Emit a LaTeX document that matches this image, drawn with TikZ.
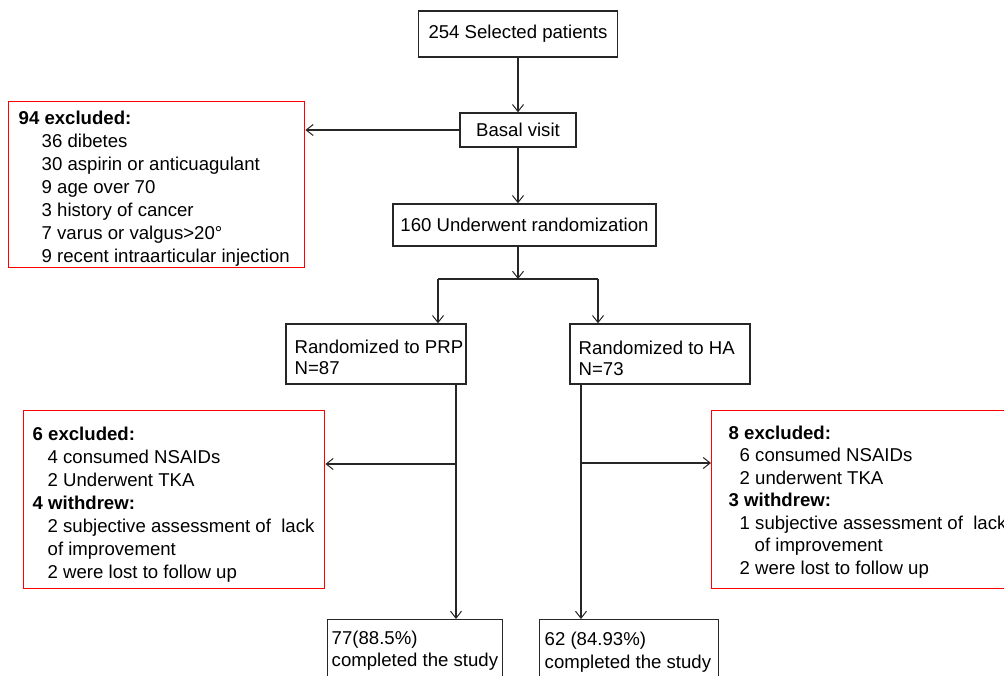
\documentclass[tikz,border=0pt]{standalone}
\usepackage{fontspec}
\setmainfont{Liberation Sans}
\usetikzlibrary{arrows.meta,calc}
\begin{document}
\begin{tikzpicture}[x=1pt,y=-1pt,
  line width=1.4pt,
  every node/.style={font=\fontsize{18.6}{23}\selectfont},
  blackbox/.style={draw=black!85, line width=1.4pt, inner sep=0pt, rectangle},
  redbox/.style={draw=red, line width=1.4pt, inner sep=0pt, rectangle},
  txt/.style={anchor=north west, inner sep=0pt, align=left},
  arr/.style={draw=black!85, -{Straight Barb[length=7pt,width=11pt,line width=1pt]}},
  ln/.style={draw=black!85}
]
\clip (0,0) rectangle (1004,675);
\useasboundingbox (0,0) rectangle (1004,675);
\fill[white] (0,0) rectangle (1004,675);

% black boxes
\node[blackbox, minimum width=199pt, minimum height=46pt] (top) at (518,34) {254 Selected patients};
\node[blackbox, minimum width=116pt, minimum height=34pt] (basal) at (518,130) {Basal visit};
\node[blackbox, minimum width=263pt, minimum height=42pt] (rand) at (524.5,225) {160 Underwent randomization};
\node[blackbox, minimum width=180pt, minimum height=60pt] (prp) at (376,354) {};
\node[txt, font=\fontsize{18.6}{21}\selectfont] (prpt) at (294,339) {Randomized to PRP\\N=87};
\node[blackbox, minimum width=180pt, minimum height=60pt] (ha) at (660,354) {};
\node[txt, font=\fontsize{18.6}{21}\selectfont] (hat) at (578,340) {Randomized to HA\\N=73};
\node[blackbox, minimum width=175pt, minimum height=70pt, anchor=north west] (b1) at (327,619) {};
\node[txt, font=\fontsize{18.6}{22}\selectfont] (b1t) at (331,630) {77(88.5\%)\\completed the study};
\node[blackbox, minimum width=179pt, minimum height=70pt, anchor=north west] (b2) at (539,619) {};
\node[txt, font=\fontsize{18.6}{23}\selectfont] (b2t) at (544,631) {62 (84.93\%)\\completed the study};

% red boxes
\node[redbox, minimum width=296pt, minimum height=166pt, anchor=north west] (l1) at (8,101) {};
\node[txt] (l1t) at (18,110) {\textbf{94 excluded:}\\
\hspace*{23pt}36 dibetes\\
\hspace*{23pt}30 aspirin or anticuagulant\\
\hspace*{23pt}9 age over 70\\
\hspace*{23pt}3 history of cancer\\
\hspace*{23pt}7 varus or valgus>20°\\
\hspace*{23pt}9 recent intraarticular injection};

\node[redbox, minimum width=301pt, minimum height=178pt, anchor=north west] (l2) at (23,410) {};
\node[txt] (l2t) at (32,426) {\textbf{6 excluded:}\\
\hspace*{15pt}4 consumed NSAIDs\\
\hspace*{15pt}2 Underwent TKA\\
\textbf{4 withdrew:}\\
\hspace*{15pt}2 subjective assessment of\ \ lack\\
\hspace*{15pt}of improvement\\
\hspace*{15pt}2 were lost to follow up};

\node[redbox, minimum width=310pt, minimum height=178pt, anchor=north west] (r2) at (711,410) {};
\node[txt, font=\fontsize{18.6}{22.5}\selectfont] (r2t) at (728,425) {\textbf{8 excluded:}\\
\hspace*{11pt}6 consumed NSAIDs\\
\hspace*{11pt}2 underwent TKA\\
\textbf{3 withdrew:}\\
\hspace*{11pt}1 subjective assessment of\ \ lack\\
\hspace*{26pt}of improvement\\
\hspace*{11pt}2 were lost to follow up};

% connectors
\draw[arr] (top.south -| basal.north) -- (basal.north);
\draw[arr] (basal.west) -- (basal.west -| l1.east);
\draw[arr] (basal.south) -- (basal.south |- rand.north);
\coordinate (split) at (518,279);
\coordinate (lc) at (438,279);
\coordinate (rc) at (598,279);
\draw[arr] (split |- rand.south) -- (split);
\draw[ln] (lc) -- (rc);
\draw[arr] (lc) -- (lc |- prp.north);
\draw[arr] (rc) -- (rc |- ha.north);

\coordinate (pmid) at (456,464);
\draw[arr] (pmid |- prp.south) -- (pmid |- b1.north);
\draw[arr] (pmid) -- (pmid -| l2.east);
\coordinate (hmid) at (581,463);
\draw[arr] (hmid |- ha.south) -- (hmid |- b2.north);
\draw[arr] (hmid) -- (hmid -| r2.west);
\end{tikzpicture}
\end{document}
